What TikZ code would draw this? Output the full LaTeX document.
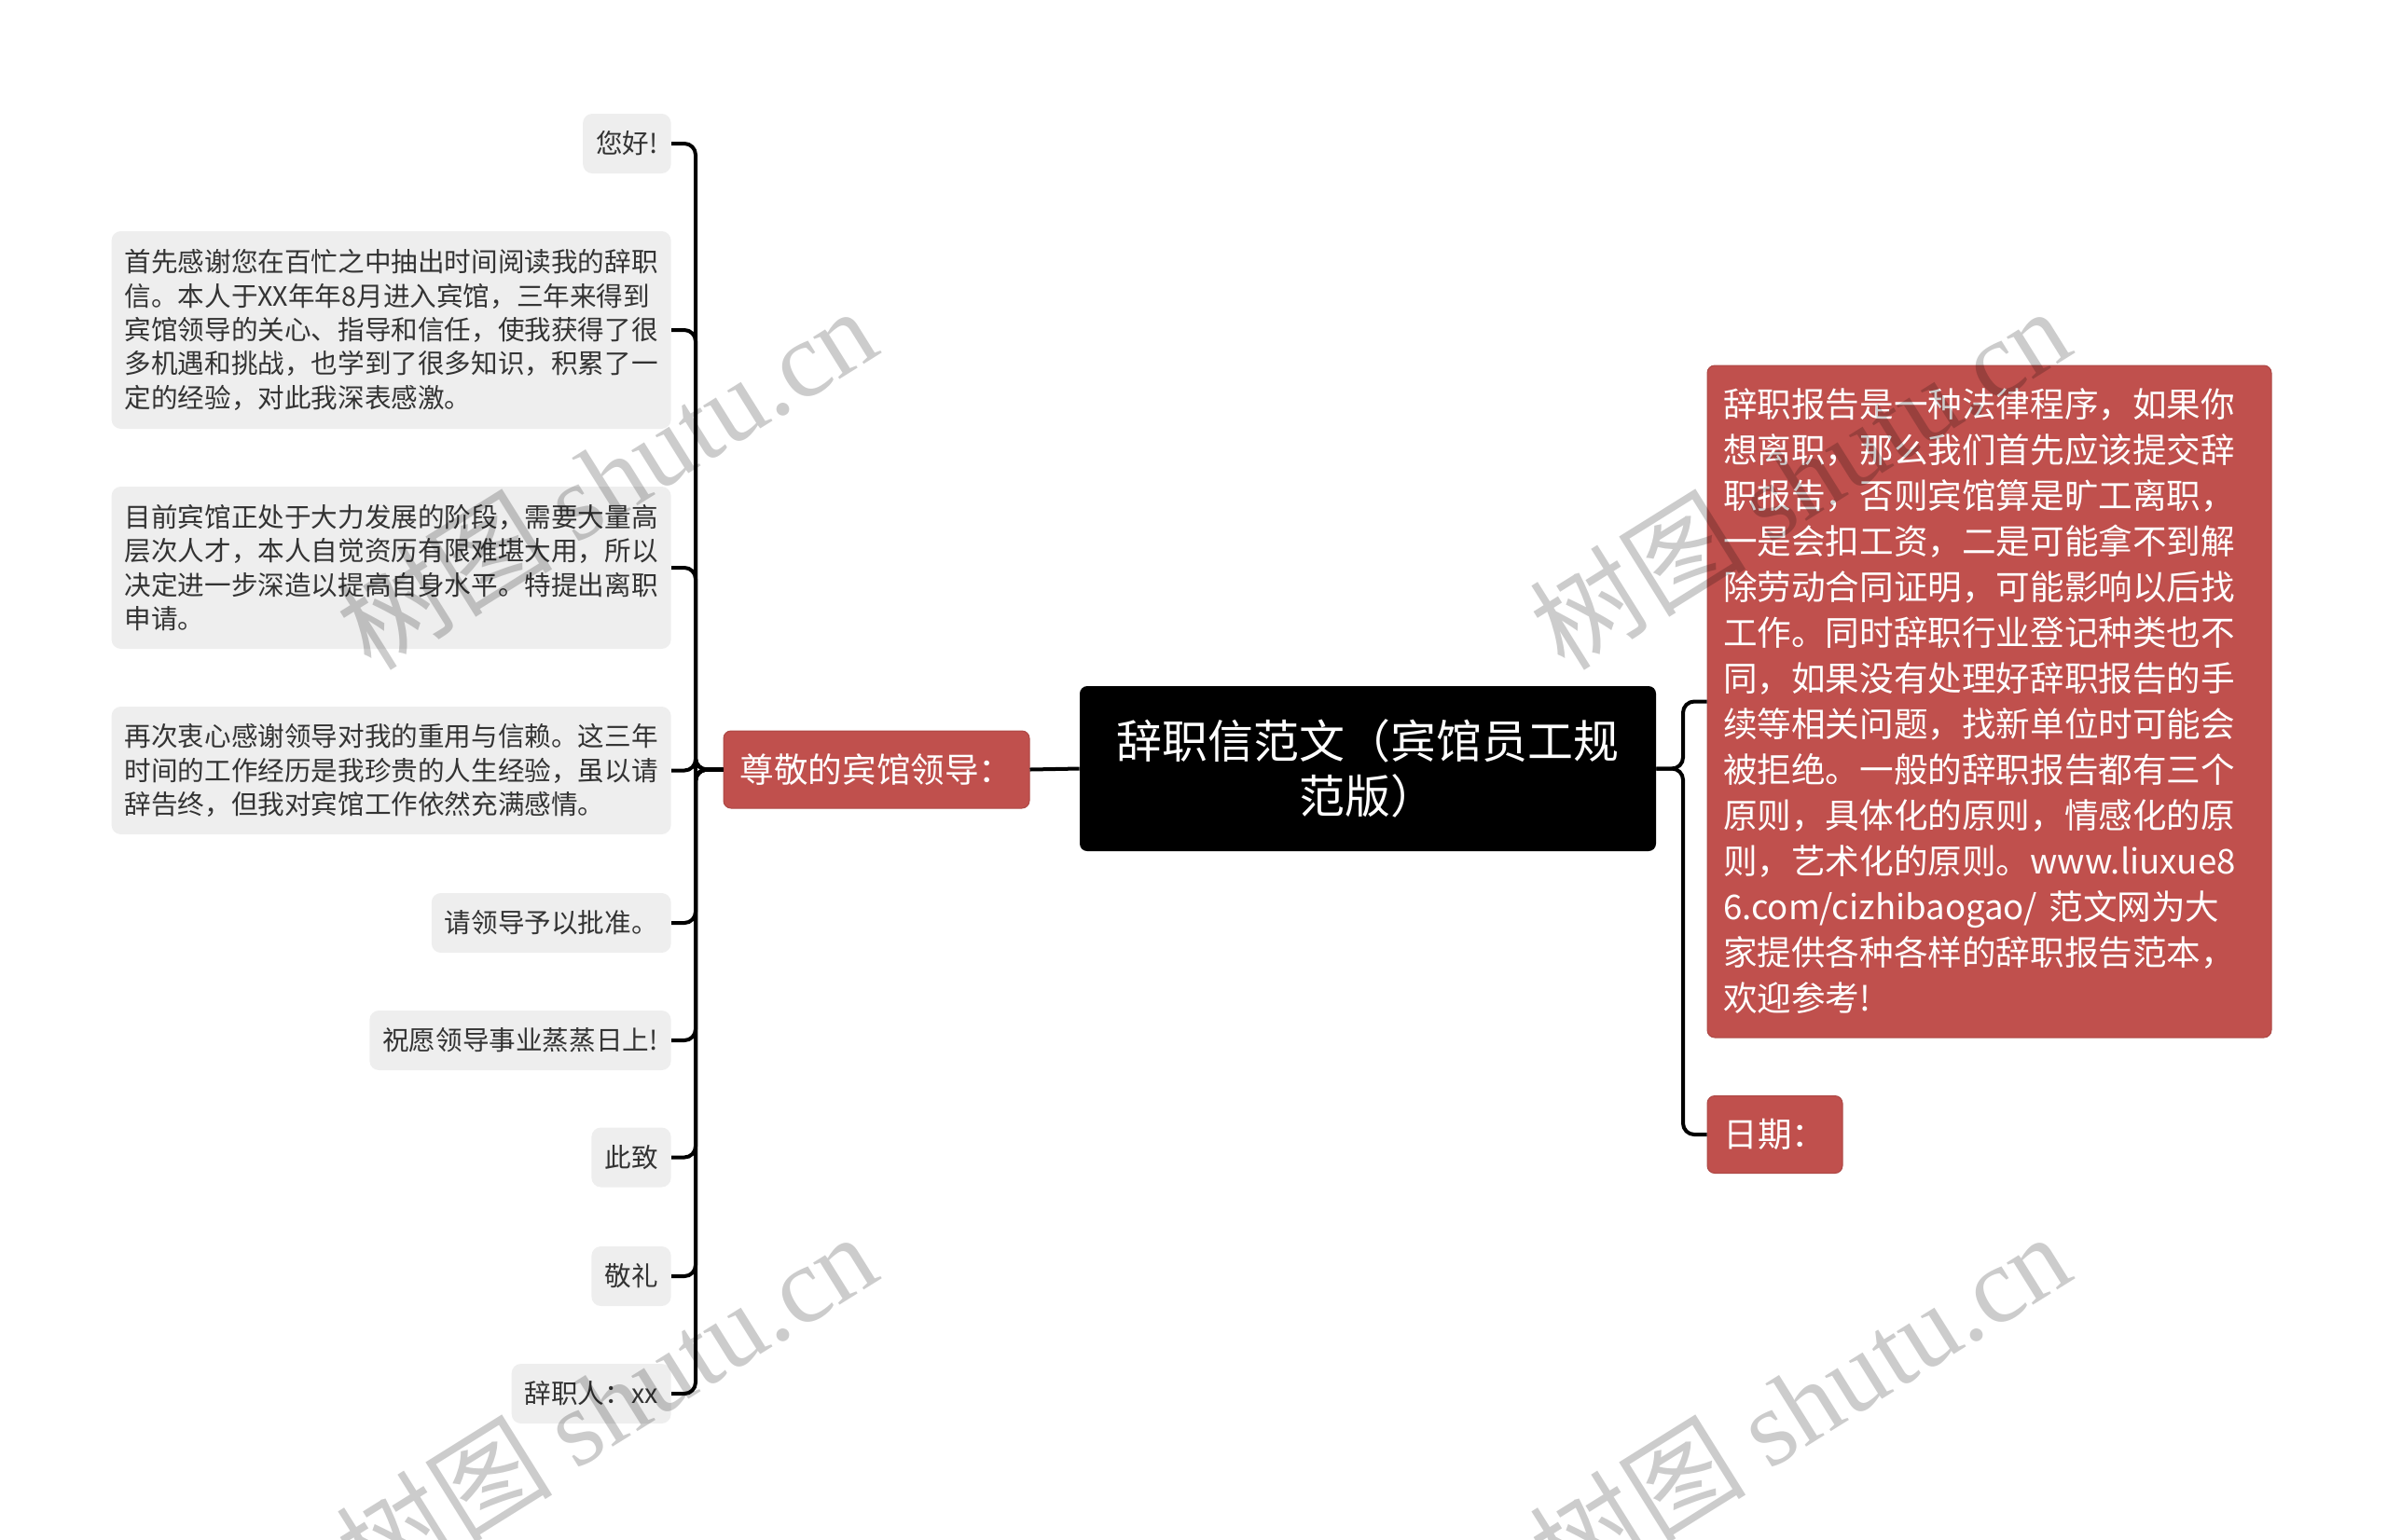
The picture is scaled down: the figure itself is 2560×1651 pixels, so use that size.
\documentclass[tikz,border=0pt]{standalone}
\usepackage{fontspec}
\setmainfont{Noto Sans CJK SC}
\newfontfamily\wmlatin{Liberation Serif}
\newfontfamily\wmcjk{Noto Sans CJK SC}
\definecolor{leafgray}{HTML}{EEEEEE}
\definecolor{textdark}{HTML}{333333}
\definecolor{redbox}{HTML}{C0504D}
\begin{document}
\begin{tikzpicture}[x=0.5pt,y=-0.5pt,
  leaf/.style={fill=leafgray, rounded corners=5pt, text=textdark,
    font=\fontsize{14.3pt}{18.2pt}\selectfont, align=left,
    inner xsep=7pt, inner ysep=0pt, anchor=east, minimum height=32pt},
  redn/.style={fill=redbox, draw=redbox!90!black, line width=0.5pt, rounded corners=4pt, text=white,
    font=\fontsize{18.3pt}{24.5pt}\selectfont, align=left, inner xsep=8.5pt, inner ysep=0pt},
  rootn/.style={fill=black, rounded corners=4pt, text=white,
    font=\fontsize{24.5pt}{29.4pt}\selectfont, align=center, inner sep=0pt,
    minimum width=309pt, minimum height=88.5pt},
  conn/.style={draw=black, line width=2pt, rounded corners=6pt},
  wm/.style={text=black, opacity=0.2, rotate=32, font=\fontsize{58pt}{66pt}\selectfont}
]
\useasboundingbox (0,0) rectangle (2560,1651);

% root and main branches
\node[rootn] (root) at (1467,824.5) {辞职信范文（宾馆员工规\\范版）};
\node[redn, minimum width=164pt, minimum height=41.5pt] (zj) at (940,825.5) {尊敬的宾馆领导：};
\node[redn, minimum width=302.5pt, minimum height=360.5pt, text width=285.5pt] (big) at (2133.5,752.5) {辞职报告是一种法律程序，如果你\\
想离职，那么我们首先应该提交辞\\
职报告，否则宾馆算是旷工离职，\\
一是会扣工资，二是可能拿不到解\\
除劳动合同证明，可能影响以后找\\
工作。同时辞职行业登记种类也不\\
同，如果没有处理好辞职报告的手\\
续等相关问题，找新单位时可能会\\
被拒绝。一般的辞职报告都有三个\\
原则，具体化的原则，情感化的原\\
则，艺术化的原则。www.liuxue8\\
6.com/cizhibaogao/ 范文网为大\\
家提供各种各样的辞职报告范本，\\
欢迎参考!};
\node[redn, minimum width=72.5pt, minimum height=41.5pt] (rq) at (1903.5,1217) {日期：};

% left leaves
\node[leaf, minimum width=46.5pt] (l1) at (720,154) {您好!};
\node[leaf, minimum width=299pt, minimum height=106pt] (l2) at (720,354) {首先感谢您在百忙之中抽出时间阅读我的辞职\\
信。本人于XX年年8月进入宾馆，三年来得到\\
宾馆领导的关心、指导和信任，使我获得了很\\
多机遇和挑战，也学到了很多知识，积累了一\\
定的经验，对此我深表感激。};
\node[leaf, minimum width=299pt, minimum height=87pt] (l3) at (720,609) {目前宾馆正处于大力发展的阶段，需要大量高\\
层次人才，本人自觉资历有限难堪大用，所以\\
决定进一步深造以提高自身水平。特提出离职\\
申请。};
\node[leaf, minimum width=299pt, minimum height=68.5pt] (l4) at (720,826.5) {再次衷心感谢领导对我的重用与信赖。这三年\\
时间的工作经历是我珍贵的人生经验，虽以请\\
辞告终，但我对宾馆工作依然充满感情。};
\node[leaf, minimum width=127.5pt] (l5) at (720,990) {请领导予以批准。};
\node[leaf, minimum width=161pt] (l6) at (720,1116) {祝愿领导事业蒸蒸日上!};
\node[leaf, minimum width=42.5pt] (l7) at (720,1241.5) {此致};
\node[leaf, minimum width=42.5pt] (l8) at (720,1369) {敬礼};
\node[leaf, minimum width=85pt] (l9) at (720,1495) {辞职人：xx};

% spines
\coordinate (spL) at (746,0);
\coordinate (spR) at (1805,0);

% connectors
\draw[conn] (root.west) -- (zj.east);
\foreach \n in {l1,l2,l3,l4,l5,l6,l7,l8,l9}{
  \draw[conn] (zj.west) -- (zj.west -| spL) -- (\n.east -| spL) -- (\n.east);
}
\foreach \n in {big,rq}{
  \draw[conn] (root.east) -- (root.east -| spR) -- (\n.west -| spR) -- (\n.west);
}

% watermarks
\node[wm] (w1) at (650,512) {\wmcjk 树图 \wmlatin shutu.cn};
\node[wm] (w2) at (650,1505) {\wmcjk 树图 \wmlatin shutu.cn};
\node[wm] (w3) at (1930,512) {\wmcjk 树图 \wmlatin shutu.cn};
\node[wm] (w4) at (1930,1505) {\wmcjk 树图 \wmlatin shutu.cn};
\end{tikzpicture}
\end{document}
